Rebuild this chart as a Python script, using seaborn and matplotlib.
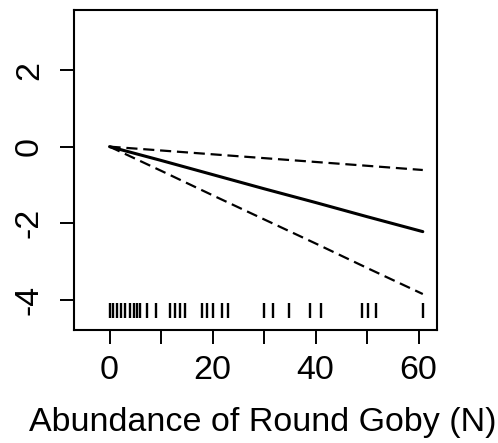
import matplotlib
matplotlib.use("Agg")
import matplotlib.pyplot as plt
import seaborn as sns
import pandas as pd
import numpy as np

# smooth curve and confidence bounds
x_vals = [0, 10, 20, 30, 40, 50, 60.8]
fit_vals = [0, -0.36, -0.73, -1.10, -1.46, -1.83, -2.22]
upper_vals = [0, -0.10, -0.20, -0.30, -0.40, -0.50, -0.61]
lower_vals = [0, -0.63, -1.27, -1.90, -2.53, -3.17, -3.85]

# rug positions (observed abundances)
rug_vals = [0, 0.6, 1.5, 2.3, 3.0, 4.0, 4.7, 5.4, 6.0, 7.2, 9.0, 11.7, 12.7,
            13.7, 14.7, 17.9, 18.9, 20.0, 21.9, 22.9, 30.0, 31.8, 34.9, 39.0,
            41.0, 49.0, 50.2, 51.8, 60.8]

x_ticks = [0, 10, 20, 30, 40, 50, 60]
x_ticklabels = ["0", "", "20", "", "40", "", "60"]
y_ticks = [-4, -2, 0, 2]
y_ticklabels = ["-4", "-2", "0", "2"]
x_label = "Abundance of Round Goby (N)"

sns.set_style("white")
plt.rcParams['font.family'] = ['Liberation Sans', 'DejaVu Sans']

df = pd.DataFrame({"x": x_vals, "fit": fit_vals, "upper": upper_vals, "lower": lower_vals})

fig = plt.figure(figsize=(4.98, 4.43), dpi=100)
ax = fig.add_axes([74/498, 1-330/443, (436.7-74)/498, (330-10)/443])

sns.lineplot(data=df, x="x", y="fit", ax=ax, color="black", linewidth=2.2)
sns.lineplot(data=df, x="x", y="upper", ax=ax, color="black", linewidth=1.6,
             linestyle=(0, (5, 2.6)))
sns.lineplot(data=df, x="x", y="lower", ax=ax, color="black", linewidth=1.6,
             linestyle=(0, (5, 2.6)))

ax.vlines(rug_vals, -4.47, -4.08, color="black", linewidth=1.7)

ax.set_xlim(-6.9, 63.5)
ax.set_ylim(-4.79, 3.57)

ax.set_xticks(x_ticks)
ax.set_xticklabels(x_ticklabels)
ax.set_yticks(y_ticks)
ax.set_yticklabels(y_ticklabels, rotation=90, va="center")

ax.tick_params(axis="both", which="both", direction="out", length=10, width=1.4,
               color="black", labelsize=24.5, labelcolor="black", left=True, bottom=True)
ax.tick_params(axis="x", pad=8)
ax.tick_params(axis="y", pad=11)

ax.set_xlabel(x_label, fontsize=24.5, color="black")
ax.xaxis.set_label_coords(0.521, -0.24)
ax.set_ylabel("")

for s in ax.spines.values():
    s.set_visible(True)
    s.set_color("black")
    s.set_linewidth(1.5)

fig.savefig("out.png", dpi=100)
